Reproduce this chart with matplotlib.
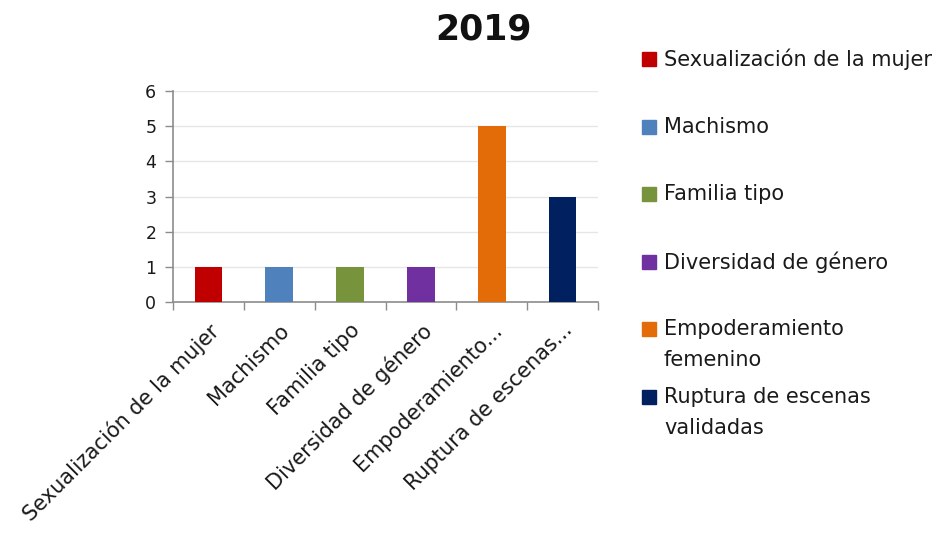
import matplotlib
matplotlib.use("Agg")
import matplotlib.pyplot as plt
from matplotlib.patches import Rectangle

categories = [
    "Sexualización de la mujer",
    "Machismo",
    "Familia tipo",
    "Diversidad de género",
    "Empoderamiento femenino",
    "Ruptura de escenas validadas",
]
tick_labels = [
    "Sexualización de la mujer",
    "Machismo",
    "Familia tipo",
    "Diversidad de género",
    "Empoderamiento...",
    "Ruptura de escenas...",
]
legend_labels = [
    ["Sexualización de la mujer"],
    ["Machismo"],
    ["Familia tipo"],
    ["Diversidad de género"],
    ["Empoderamiento", "femenino"],
    ["Ruptura de escenas", "validadas"],
]
values = [1, 1, 1, 1, 5, 3]
colors = ["#C00000", "#4F81BD", "#77933C", "#7030A0", "#E36C09", "#002060"]

plt.rcParams["font.family"] = ["DejaVu Sans"]

W, H = 943, 534
fig = plt.figure(figsize=(W / 100, H / 100), dpi=100)
ax = fig.add_axes([173 / W, 1 - 302 / H, (598 - 173) / W, (302 - 91) / H])

x = list(range(len(categories)))
ax.bar(x, values, width=0.39, color=colors, zorder=3)

ax.set_xlim(-0.5, len(categories) - 0.5)
ax.set_ylim(0, 6)
ax.set_yticks(range(0, 7))
ax.yaxis.grid(True, color="#E6E6E6", linewidth=1, zorder=0)

ax.set_xticks(x)
ax.set_xticklabels(tick_labels, rotation=45, ha="right", rotation_mode="anchor",
                   fontsize=15, color="#1a1a1a")
ax.set_xticks([i - 0.5 for i in range(len(categories) + 1)], minor=True)
ax.tick_params(axis="x", which="major", length=0, pad=13)
ax.tick_params(axis="x", which="minor", length=6, color="#8c8c8c", width=1)
ax.tick_params(axis="y", length=6, color="#8c8c8c", width=1, labelsize=12.5,
               labelcolor="#1a1a1a", pad=6)

for s in ["top", "right"]:
    ax.spines[s].set_visible(False)
for s in ["left", "bottom"]:
    ax.spines[s].set_color("#8c8c8c")
    ax.spines[s].set_linewidth(1.2)

fig.text(483 / W, 1 - 30 / H, "2019", ha="center", va="center",
         fontsize=25, fontweight="bold", color="#111111")

# legend drawn as a column of colored squares with wrapped labels
entry_y = [59, 127, 194, 262, 329, 397]
line_gap = 31
for lines, col, yy in zip(legend_labels, colors, entry_y):
    fig.add_artist(Rectangle((642 / W, 1 - (yy + 7) / H), 14 / W, 14 / H,
                             transform=fig.transFigure, color=col))
    for k, line in enumerate(lines):
        fig.text(664 / W, 1 - (yy + k * line_gap) / H, line, ha="left",
                 va="center", fontsize=15, color="#1a1a1a")

fig.savefig("out.png", dpi=100)
